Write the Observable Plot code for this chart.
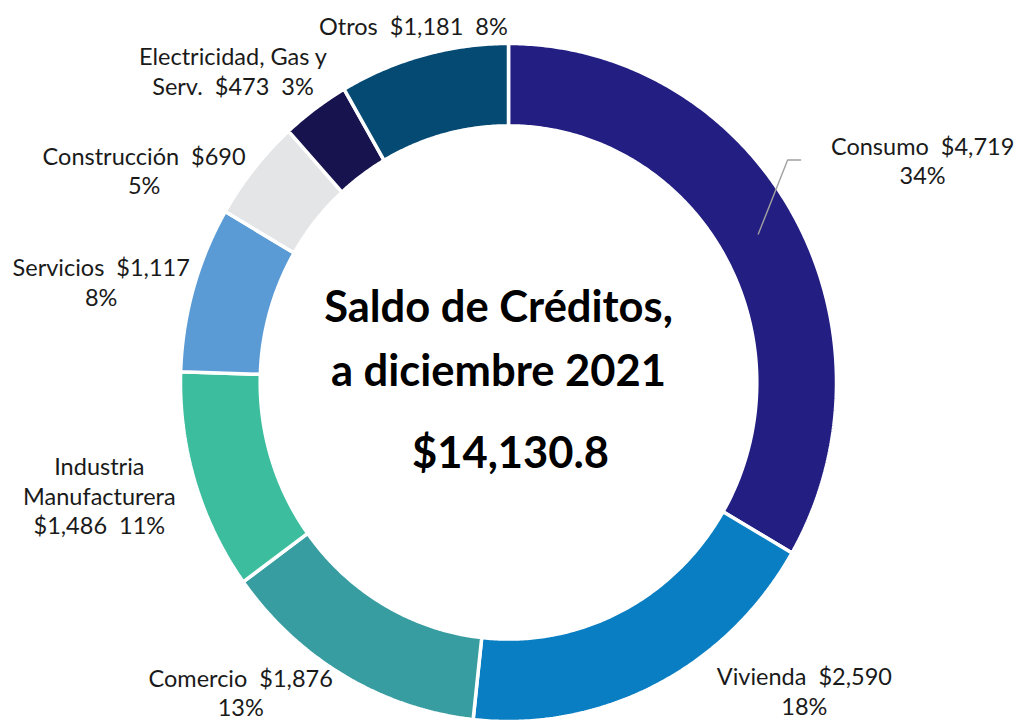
<!DOCTYPE html>
<html>
<head>
<meta charset="utf-8">
<script src="https://cdn.jsdelivr.net/npm/d3@7"></script>
<script src="https://cdn.jsdelivr.net/npm/@observablehq/plot@0.6"></script>
<style>
  html, body { margin: 0; padding: 0; background: #fff; }
  #chart svg { display: block; overflow: visible; }
  #chart svg text { white-space: pre; }
</style>
</head>
<body>
<div id="chart"></div>
<script>
// ---- data ----
const categories = ["Consumo", "Vivienda", "Comercio", "Industria Manufacturera", "Servicios", "Construcción", "Electricidad, Gas y Serv.", "Otros"];
const displayNames = ["Consumo", "Vivienda", "Comercio", "Industria\nManufacturera", "Servicios", "Construcción", "Electricidad, Gas y\nServ.", "Otros"];
const values = [4719, 2590, 1876, 1486, 1117, 690, 473, 1181];
const percents = [34, 18, 13, 11, 8, 5, 3, 8];
const colors = ["#231F82", "#0A7EC2", "#389DA0", "#3CBD9D", "#5B9BD5", "#E4E5E7", "#17134F", "#054A72"];
const titleLines = ["Saldo de Créditos,", "a diciembre 2021"];
const totalLabel = "$14,130.8";

// ---- layout (not data) ----
const W = 1019, H = 723;
const mL = 180, mR = 183, mT = 43, mB = 2;
const rx = (W - mL - mR) / 2, ry = (H - mT - mB) / 2;
const innerRatio = 0.757;
const labelRadius = 1.27;
// label form: A = "name  value\npct", B = "name\nvalue  pct", C = "name  value  pct"
const labelForm = ["A", "A", "A", "B", "A", "A", "C", "C"];
// fine placement nudges in pixels [dx, dy]
const labelNudge = [[53, -8], [108, -76], [-59, -63], [-11, -14], [-7, 18], [-41, 59], [-30, 36], [13, 59]];

const fmtMoney = v => "$" + d3.format(",")(v);
const total = d3.sum(values);
let acc = 0;
const slices = categories.map((c, i) => {
  const a0 = acc / total * 2 * Math.PI;
  acc += values[i];
  const a1 = acc / total * 2 * Math.PI;
  return {c, i, a0, a1, mid: (a0 + a1) / 2};
});

const ringPts = slices.flatMap(s => {
  const n = Math.max(2, Math.ceil((s.a1 - s.a0) / (Math.PI / 360)));
  const pts = [];
  for (let k = 0; k <= n; k++) {
    const a = s.a0 + (s.a1 - s.a0) * k / n;
    pts.push({c: s.c, x: Math.sin(a), y: Math.cos(a)});
  }
  for (let k = n; k >= 0; k--) {
    const a = s.a0 + (s.a1 - s.a0) * k / n;
    pts.push({c: s.c, x: innerRatio * Math.sin(a), y: innerRatio * Math.cos(a)});
  }
  pts.push({...pts[0]});
  return pts;
});

const labels = slices.map(s => {
  const i = s.i;
  const name = displayNames[i], val = fmtMoney(values[i]), pct = percents[i] + "%";
  let text;
  if (labelForm[i] === "A") text = `${name}  ${val}\n${pct}`;
  else if (labelForm[i] === "B") text = `${name}\n${val}  ${pct}`;
  else text = `${name}  ${val}  ${pct}`;
  const [dx, dy] = labelNudge[i];
  return {
    c: s.c, text,
    x: labelRadius * Math.sin(s.mid) + dx / rx,
    y: labelRadius * Math.cos(s.mid) - dy / ry
  };
});

// leader line for the first (Consumo) label
const ringMid = (1 + innerRatio) / 2;
const s0 = slices[0], l0 = labels[0];
const leader = [
  {x: ringMid * Math.sin(s0.mid), y: ringMid * Math.cos(s0.mid)},
  {x: l0.x - 135 / rx, y: l0.y},
  {x: l0.x - 122 / rx, y: l0.y}
];

const chart = Plot.plot({
  width: W,
  height: H,
  marginLeft: mL, marginRight: mR, marginTop: mT, marginBottom: mB,
  x: {domain: [-1, 1], axis: null},
  y: {domain: [-1, 1], axis: null},
  color: {domain: categories, range: colors},
  style: {fontFamily: "Lato, sans-serif", background: "#fff"},
  marks: [
    Plot.line(ringPts, {x: "x", y: "y", z: "c", fill: "c", stroke: "white", strokeWidth: 3.5, curve: "linear", strokeLinejoin: "miter"}),
    Plot.line(leader, {x: "x", y: "y", stroke: "#A0A0A0", strokeWidth: 1.4}),
    Plot.text(labels, {x: "x", y: "y", text: "text", fontSize: 23.5, lineHeight: 1.26, lineAnchor: "middle", textAnchor: "middle", fill: "#1a1a1a"}),
    Plot.text([titleLines[0]], {frameAnchor: "middle", text: d => d, dx: -10, dy: -74, fontSize: 43.5, fontWeight: "bold", fill: "#000", lineAnchor: "middle"}),
    Plot.text([titleLines[1]], {frameAnchor: "middle", text: d => d, dx: -10, dy: -10, fontSize: 43.5, fontWeight: "bold", fill: "#000", lineAnchor: "middle"}),
    Plot.text([totalLabel], {frameAnchor: "middle", text: d => d, dx: 2, dy: 72, fontSize: 43.5, fontWeight: "bold", fill: "#000", lineAnchor: "middle"})
  ]
});
document.getElementById("chart").appendChild(chart);
</script>
</body>
</html>
